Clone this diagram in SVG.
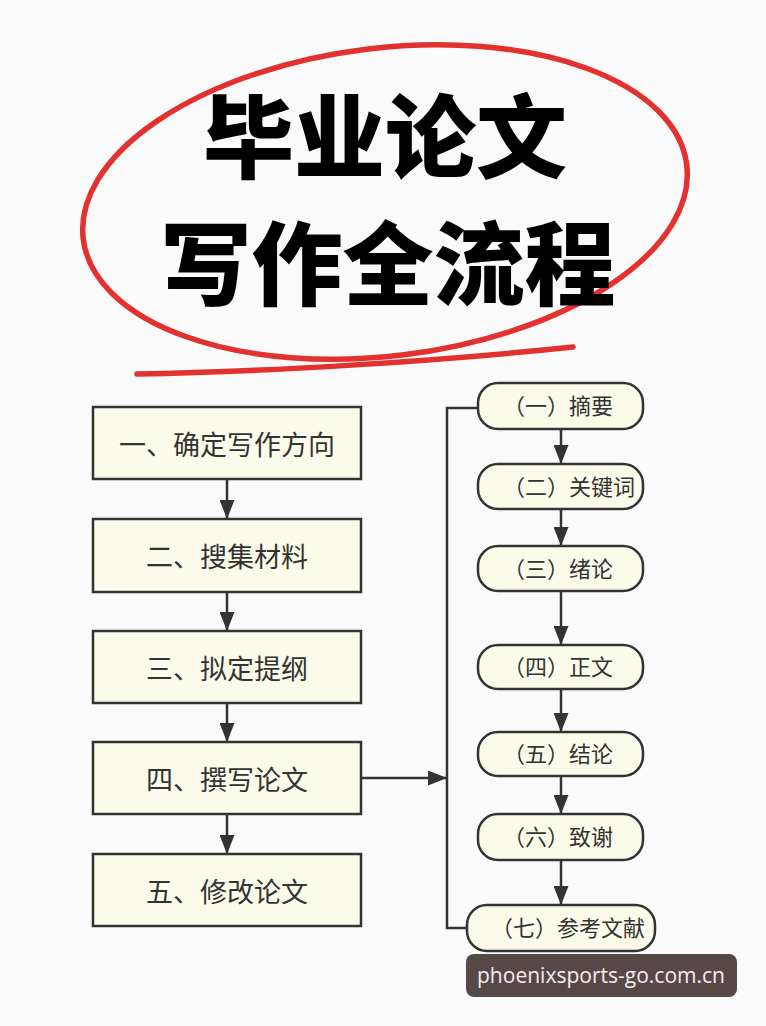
<svg xmlns="http://www.w3.org/2000/svg" width="766" height="1026" viewBox="0 0 766 1026">
<defs>
<style>
.bg{fill:#fafafa}
.loop{fill:none;stroke:#e2312f;stroke-width:5.5;stroke-linecap:round}
.title{font-family:"Noto Sans CJK SC","Noto Sans CJK JP",sans-serif;font-weight:900;font-size:91px;fill:#000;text-anchor:middle}
.box{fill:#fbfbe9;stroke:#333;stroke-width:2.5}
.lbl{font-family:"Noto Sans CJK SC","Noto Sans CJK JP",sans-serif;font-size:27px;fill:#333;text-anchor:middle}
.plbl{font-family:"Noto Sans CJK SC","Noto Sans CJK JP",sans-serif;font-size:22px;fill:#333}
.edge{fill:none;stroke:#333;stroke-width:2.5}
.wm{fill:#574848}
.wmt{font-family:"Open Sans","Noto Sans",sans-serif;font-size:21px;fill:#f4eef2}
</style>
<marker id="ah" viewBox="0 0 19 15" refX="19" refY="7.5" markerWidth="19" markerHeight="15" markerUnits="userSpaceOnUse" orient="auto">
<path d="M0,0 L19,7.5 L0,15 Z" fill="#333"/>
</marker>
</defs>
<rect class="bg" x="0" y="0" width="766" height="1026"/>

<g id="title">
<ellipse class="loop" cx="385" cy="202" rx="304" ry="154" transform="rotate(-7 385 202)"/>
<path class="loop" d="M137,374 C260,372 430,362 573,347" stroke-width="5"/>
<text class="title" x="385" y="171">毕业论文</text>
<text class="title" x="388" y="298">写作全流程</text>
</g>

<g id="connectors">
<path class="edge" d="M227,479 V519" marker-end="url(#ah)"/>
<path class="edge" d="M227,592 V631" marker-end="url(#ah)"/>
<path class="edge" d="M227,703 V742" marker-end="url(#ah)"/>
<path class="edge" d="M227,814 V854" marker-end="url(#ah)"/>
<path class="edge" d="M361,778 H447" marker-end="url(#ah)"/>
<path class="edge" d="M478,408 H447 V928 H467"/>
<path class="edge" d="M561,429 V464" marker-end="url(#ah)"/>
<path class="edge" d="M561,509 V546" marker-end="url(#ah)"/>
<path class="edge" d="M561,591 V645" marker-end="url(#ah)"/>
<path class="edge" d="M561,689 V732" marker-end="url(#ah)"/>
<path class="edge" d="M561,776 V814" marker-end="url(#ah)"/>
<path class="edge" d="M561,860 V905" marker-end="url(#ah)"/>
</g>

<g id="n1"><rect class="box" x="93" y="407" width="268" height="72"/><text class="lbl" x="227" y="455">一、确定写作方向</text></g>
<g id="n2"><rect class="box" x="93" y="519" width="268" height="73"/><text class="lbl" x="227" y="567">二、搜集材料</text></g>
<g id="n3"><rect class="box" x="93" y="631" width="268" height="72"/><text class="lbl" x="227" y="679">三、拟定提纲</text></g>
<g id="n4"><rect class="box" x="93" y="742" width="268" height="72"/><text class="lbl" x="227" y="790">四、撰写论文</text></g>
<g id="n5"><rect class="box" x="93" y="854" width="268" height="72"/><text class="lbl" x="227" y="902">五、修改论文</text></g>

<g id="p1"><rect class="box" x="478" y="383" width="165" height="46" rx="20"/><text class="plbl" x="503" y="414">（一）摘要</text></g>
<g id="p2"><rect class="box" x="478" y="464" width="165" height="45" rx="20"/><text class="plbl" x="503" y="495">（二）关键词</text></g>
<g id="p3"><rect class="box" x="478" y="546" width="165" height="45" rx="20"/><text class="plbl" x="503" y="577">（三）绪论</text></g>
<g id="p4"><rect class="box" x="478" y="645" width="165" height="44" rx="20"/><text class="plbl" x="503" y="675">（四）正文</text></g>
<g id="p5"><rect class="box" x="478" y="732" width="165" height="44" rx="20"/><text class="plbl" x="503" y="762">（五）结论</text></g>
<g id="p6"><rect class="box" x="478" y="814" width="165" height="46" rx="20"/><text class="plbl" x="503" y="845">（六）致谢</text></g>
<g id="p7"><rect class="box" x="467" y="905" width="188" height="46" rx="20"/><text class="plbl" x="491" y="936">（七）参考文献</text></g>

<g id="watermark">
<rect class="wm" x="466" y="954" width="271" height="43" rx="8"/>
<text class="wmt" x="477" y="983" textLength="248" lengthAdjust="spacingAndGlyphs">phoenixsports-go.com.cn</text>
</g>
</svg>
